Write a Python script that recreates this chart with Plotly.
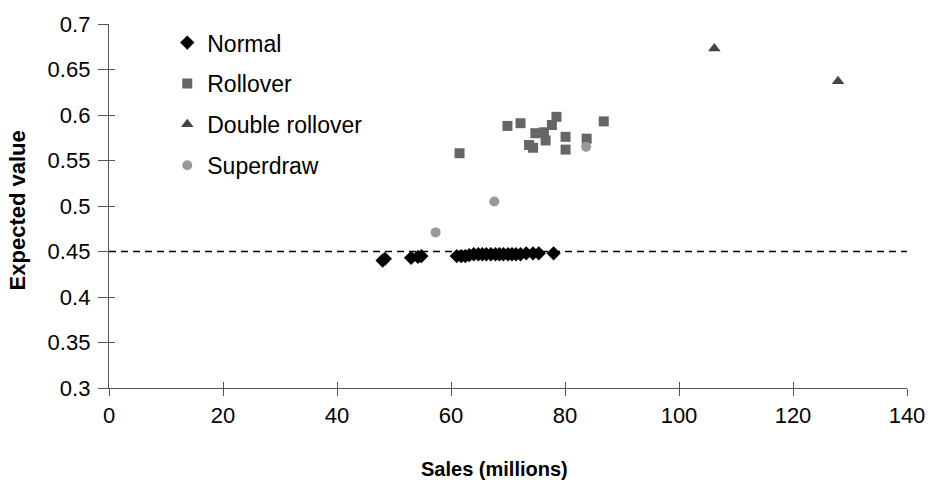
import plotly.graph_objects as go

# ---- data ----
normal_x = [48.0, 48.4, 53.0, 54.2, 54.8, 61.0, 61.8, 62.5, 63.2, 64.0, 64.8, 65.5, 66.2, 67.0,
            67.8, 68.5, 69.2, 70.0, 70.7, 71.4, 72.2, 73.2, 74.4, 75.4, 78.0]
normal_y = [0.440, 0.442, 0.443, 0.444, 0.445, 0.445, 0.445, 0.445, 0.446, 0.447, 0.447, 0.447, 0.447, 0.447,
            0.447, 0.447, 0.447, 0.447, 0.447, 0.447, 0.447, 0.448, 0.448, 0.448, 0.448]

rollover_x = [61.5, 69.9, 72.2, 73.7, 74.4, 74.8, 76.3, 76.6, 77.7, 78.5, 80.1, 80.1, 83.8, 86.8]
rollover_y = [0.558, 0.588, 0.591, 0.567, 0.564, 0.580, 0.581, 0.572, 0.589, 0.598, 0.576, 0.562, 0.574, 0.593]

double_x = [106.2, 127.9]
double_y = [0.673, 0.637]

super_x = [57.3, 67.6, 83.7]
super_y = [0.471, 0.505, 0.565]

threshold = 0.45
x_ticks = [0, 20, 40, 60, 80, 100, 120, 140]
y_ticks = [0.3, 0.35, 0.4, 0.45, 0.5, 0.55, 0.6, 0.65, 0.7]
y_tick_text = ["0.3", "0.35", "0.4", "0.45", "0.5", "0.55", "0.6", "0.65", "0.7"]

FONT = "Liberation Sans, Arial, sans-serif"
AXC = "#555555"

fig = go.Figure()
fig.add_trace(go.Scatter(x=normal_x, y=normal_y, mode="markers", name="Normal", legendgroup="a",
                         marker=dict(symbol="diamond", size=11, color="#000000")))
fig.add_trace(go.Scatter(x=rollover_x, y=rollover_y, mode="markers", name="Rollover", legendgroup="b",
                         marker=dict(symbol="square", size=10, color="#666666")))
fig.add_trace(go.Scatter(x=double_x, y=double_y, mode="markers", name="Double rollover", legendgroup="c",
                         marker=dict(symbol="triangle-up", size=11, color="#444444")))
fig.add_trace(go.Scatter(x=super_x, y=super_y, mode="markers", name="Superdraw", legendgroup="d",
                         marker=dict(symbol="circle", size=10, color="#999999")))
# invisible trace for overlay axes (inside ticks -> crossing ticks)
fig.add_trace(go.Scatter(x=[x_ticks[0]], y=[y_ticks[0]], xaxis="x2", yaxis="y2", mode="markers",
                         marker=dict(opacity=0), showlegend=False, hoverinfo="skip"))

fig.add_shape(type="line", xref="x", yref="y", x0=x_ticks[0], x1=x_ticks[-1], y0=threshold, y1=threshold,
              line=dict(color="#000000", width=1.3, dash="7px,5px"))

fig.add_annotation(text="<b>Sales (millions)</b>", xref="paper", yref="paper", x=0.483, y=-0.222,
                   xanchor="center", yanchor="middle", showarrow=False,
                   font=dict(family=FONT, size=20, color="#000000"))
fig.add_annotation(text="<b>Expected value</b>", xref="paper", yref="paper", x=-0.1146, y=0.4866,
                   xanchor="center", yanchor="middle", showarrow=False, textangle=-90,
                   font=dict(family=FONT, size=22, color="#000000"))

fig.update_layout(
    width=937, height=488,
    margin=dict(l=109, r=25, t=15, b=100),
    paper_bgcolor="white", plot_bgcolor="white",
    font=dict(family=FONT, size=22, color="#000000"),
    showlegend=True,
    legend=dict(x=0.073, y=1.008, xanchor="left", yanchor="top", bgcolor="rgba(0,0,0,0)",
                font=dict(family=FONT, size=23), tracegroupgap=8, itemwidth=30),
    xaxis=dict(range=[x_ticks[0], x_ticks[-1]], tickvals=x_ticks, ticks="outside", ticklen=7,
               tickcolor=AXC, showline=True, linecolor=AXC, linewidth=1.3,
               showgrid=False, zeroline=False, tickfont=dict(family=FONT, size=22)),
    yaxis=dict(range=[y_ticks[0], y_ticks[-1]], tickvals=y_ticks, ticktext=y_tick_text, ticks="outside",
               ticklen=10, tickcolor=AXC, showline=True, linecolor=AXC, linewidth=1.3,
               showgrid=False, zeroline=False, tickfont=dict(family=FONT, size=22), ticklabelstandoff=3),
    xaxis2=dict(range=[x_ticks[0], x_ticks[-1]], tickvals=x_ticks, ticks="inside", ticklen=6,
                tickcolor=AXC, overlaying="x", showticklabels=False, showgrid=False,
                zeroline=False, showline=False, side="bottom"),
    yaxis2=dict(range=[y_ticks[0], y_ticks[-1]], tickvals=y_ticks, ticks="inside", ticklen=6,
                tickcolor=AXC, overlaying="y", showticklabels=False, showgrid=False,
                zeroline=False, showline=False, side="left"),
)

fig.write_html("out.html")
